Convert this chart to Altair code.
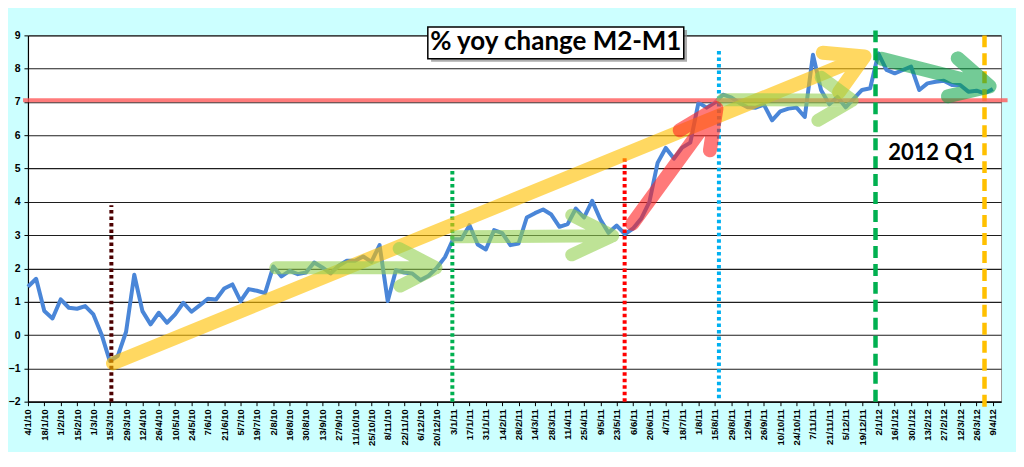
import json
import altair as alt
import pandas as pd

# ---------------- data ----------------
weeks = [
    "4/1/10", "11/1/10", "18/1/10", "25/1/10", "1/2/10", "8/2/10", "15/2/10", "22/2/10",
    "1/3/10", "8/3/10", "15/3/10", "22/3/10", "29/3/10", "5/4/10", "12/4/10", "19/4/10",
    "26/4/10", "3/5/10", "10/5/10", "17/5/10", "24/5/10", "31/5/10", "7/6/10", "14/6/10",
    "21/6/10", "28/6/10", "5/7/10", "12/7/10", "19/7/10", "26/7/10", "2/8/10", "9/8/10",
    "16/8/10", "23/8/10", "30/8/10", "6/9/10", "13/9/10", "20/9/10", "27/9/10", "4/10/10",
    "11/10/10", "18/10/10", "25/10/10", "1/11/10", "8/11/10", "15/11/10", "22/11/10", "29/11/10",
    "6/12/10", "13/12/10", "20/12/10", "27/12/10",
    "3/1/11", "10/1/11", "17/1/11", "24/1/11", "31/1/11", "7/2/11", "14/2/11", "21/2/11",
    "28/2/11", "7/3/11", "14/3/11", "21/3/11", "28/3/11", "4/4/11", "11/4/11", "18/4/11",
    "25/4/11", "2/5/11", "9/5/11", "16/5/11", "23/5/11", "30/5/11", "6/6/11", "13/6/11",
    "20/6/11", "27/6/11", "4/7/11", "11/7/11", "18/7/11", "25/7/11", "1/8/11", "8/8/11",
    "15/8/11", "22/8/11", "29/8/11", "5/9/11", "12/9/11", "19/9/11", "26/9/11", "3/10/11",
    "10/10/11", "17/10/11", "24/10/11", "31/10/11", "7/11/11", "14/11/11", "21/11/11", "28/11/11",
    "5/12/11", "12/12/11", "19/12/11", "26/12/11",
    "2/1/12", "9/1/12", "16/1/12", "23/1/12", "30/1/12", "6/2/12", "13/2/12", "20/2/12",
    "27/2/12", "5/3/12", "12/3/12", "19/3/12", "26/3/12", "2/4/12", "9/4/12",
]

m2_m1 = [
    1.45, 1.69, 0.72, 0.50, 1.07, 0.82, 0.79, 0.87, 0.62, 0.02,
    -0.78, -0.62, 0.10, 1.81, 0.72, 0.32, 0.67, 0.37, 0.62, 0.97,
    0.70, 0.89, 1.09, 1.07, 1.40, 1.52, 1.02, 1.38, 1.33, 1.26,
    2.06, 1.76, 1.93, 1.83, 1.88, 2.18, 2.03, 1.85, 2.08, 2.23,
    2.23, 2.36, 2.20, 2.70, 1.02, 1.95, 1.88, 1.85, 1.65, 1.78,
    2.02, 2.34, 2.88, 2.88, 3.30, 2.72, 2.57, 3.15, 3.06, 2.70,
    2.75, 3.53, 3.66, 3.77, 3.62, 3.25, 3.33, 3.80, 3.53, 4.03,
    3.47, 3.07, 3.29, 3.03, 3.20, 3.50, 4.00, 5.17, 5.62, 5.30,
    5.63, 5.78, 6.98, 6.83, 6.98, 7.22, 7.14, 6.97, 6.84, 6.83,
    6.92, 6.45, 6.72, 6.80, 6.83, 6.55, 8.42, 7.35, 6.93, 7.15,
    6.84, 7.10, 7.36, 7.41, 8.46, 7.96, 7.86, 7.96, 8.06, 7.36,
    7.56, 7.61, 7.64, 7.51, 7.51, 7.31, 7.34, 7.26, 7.39,
]

y_ticks = list(range(-2, 10))
title_text = "% yoy change M2-M1"
note_text = "2012 Q1"

# ---------------- scales / axes ----------------
xs = alt.Scale(domain=[0, 119], nice=False, zero=False)
ys = alt.Scale(domain=[-2, 9], nice=False, zero=False)

x_axis = alt.Axis(
    values=list(range(0, len(weeks), 2)),
    labelExpr=json.dumps(weeks) + "[datum.value]",
    labelAngle=-90, labelAlign="right", labelBaseline="middle",
    labelFont="Liberation Sans", labelFontWeight="bold", labelFontSize=9.5,
    labelColor="black", labelPadding=3, labelOverlap=False, labelFlush=False,
    domainColor="black", domainWidth=1.2, tickColor="black", tickSize=4,
    grid=False, title=None,
)
y_axis = alt.Axis(
    values=y_ticks, grid=True, gridColor="#1e1e1e", gridWidth=1.1,
    domainColor="black", domainWidth=1.2, tickColor="black", tickSize=4,
    labelFont="Liberation Sans", labelFontWeight="bold", labelFontSize=10.5,
    labelColor="black", labelPadding=4, title=None,
)


def X(f):
    return alt.X(f, scale=xs, axis=x_axis, title=None)


def Y(f):
    return alt.Y(f, scale=ys, axis=y_axis, title=None)


df = pd.DataFrame({"i": list(range(len(weeks))), "week": weeks, "v": m2_m1})

line = alt.Chart(df).mark_line(color="#4A86D8", strokeWidth=4, strokeJoin="round").encode(
    x=X("i:Q"), y=Y("v:Q"),
)

layers = [line]

# vertical marker lines (x index, bottom, top, colour, width, dash)
markers = [
    (10.2, -2.0, 3.9, "#4C0000", 4, [3.5, 3]),
    (51.9, -2.0, 5.0, "#00B050", 4, [3.5, 3]),
    (72.97, -2.0, 5.4, "#FF0000", 4, [3.5, 3]),
    (84.5, -1.9, 8.55, "#00B0F0", 4, [3.5, 3]),
    (103.65, -2.0, 9.15, "#00B050", 4.5, [12, 6]),
    (116.98, -2.15, 9.05, "#FFC000", 4.5, [12, 6]),
]
for mx, yb, yt, col, w, dash in markers:
    d = pd.DataFrame({"i": [mx], "v": [yb], "v2": [yt]})
    layers.append(
        alt.Chart(d).mark_rule(color=col, strokeWidth=w, strokeDash=dash).encode(
            x=X("i:Q"), y=Y("v:Q"), y2="v2:Q",
        )
    )

# horizontal red level line
hd = pd.DataFrame({"i": [-0.6], "i2": [119.8], "v": [7.05]})
layers.append(
    alt.Chart(hd).mark_rule(color="#FF5A5A", strokeWidth=4, opacity=0.8).encode(
        x=X("i:Q"), x2="i2:Q", y=Y("v:Q"),
    )
)

# annotation arrows: shaft start -> tip -> wing -> tip -> wing
arrows = [
    ("#FFC000", 0.62, 14, [(10.4, -0.85), (102.3, 8.37), (97.2, 8.48), (102.3, 8.37), (99.2, 7.3)]),
    ("#92D050", 0.6, 13, [(30.3, 2.02), (49.9, 2.02), (45.4, 2.6), (49.9, 2.02), (45.5, 1.47)]),
    ("#92D050", 0.6, 13, [(52.4, 2.95), (71.5, 2.98), (66.5, 3.6), (71.5, 2.98), (66.5, 2.41)]),
    ("#92D050", 0.6, 13, [(85.0, 7.07), (100.8, 7.05), (97.0, 7.74), (100.8, 7.05), (96.6, 6.45)]),
    ("#00A040", 0.55, 14, [(104.4, 8.3), (117.6, 7.47), (113.7, 8.31), (117.6, 7.47), (112.5, 7.17)]),
    ("#FF2020", 0.6, 14, [(73.9, 3.34), (84.2, 6.81), (79.7, 6.15), (84.2, 6.81), (83.4, 5.55)]),
]
for col, op, w, pts in arrows:
    d = pd.DataFrame({"seq": list(range(len(pts))),
                      "i": [p[0] for p in pts], "v": [p[1] for p in pts]})
    layers.append(
        alt.Chart(d).mark_line(color=col, opacity=op, strokeWidth=w,
                               strokeCap="round", strokeJoin="round").encode(
            x=X("i:Q"), y=Y("v:Q"), order="seq:Q",
        )
    )

# title box with shadow
shadow = pd.DataFrame({"i": [49.3], "i2": [80.6], "v": [9.16], "v2": [8.21]})
box = pd.DataFrame({"i": [48.9], "i2": [80.2], "v": [9.25], "v2": [8.30]})
layers.append(
    alt.Chart(shadow).mark_rect(color="#8a8a8a", opacity=0.7).encode(
        x=X("i:Q"), x2="i2:Q", y=Y("v:Q"), y2="v2:Q",
    )
)
layers.append(
    alt.Chart(box).mark_rect(fill="white", stroke="black", strokeWidth=1.5).encode(
        x=X("i:Q"), x2="i2:Q", y=Y("v:Q"), y2="v2:Q",
    )
)
td = pd.DataFrame({"i": [64.55], "v": [8.55], "t": [title_text]})
layers.append(
    alt.Chart(td).mark_text(font="Lato", fontWeight="bold", fontSize=26,
                            align="center", baseline="alphabetic", color="black").encode(
        x=X("i:Q"), y=Y("v:Q"), text="t:N",
    )
)
nd = pd.DataFrame({"i": [105.2], "v": [5.26], "t": [note_text]})
layers.append(
    alt.Chart(nd).mark_text(font="Lato", fontWeight="bold", fontSize=22,
                            align="left", baseline="alphabetic", color="black").encode(
        x=X("i:Q"), y=Y("v:Q"), text="t:N",
    )
)

chart = alt.layer(*layers).properties(
    width=975, height=367,
    background="#CCFFFF",
    padding={"left": 20, "top": 27, "right": 15, "bottom": 50},
    autosize=alt.AutoSizeParams(type="none"),
).configure_view(stroke="#9a9a9a", fill="white")

chart.save("out.html", embed_options={"renderer": "svg", "actions": False})
